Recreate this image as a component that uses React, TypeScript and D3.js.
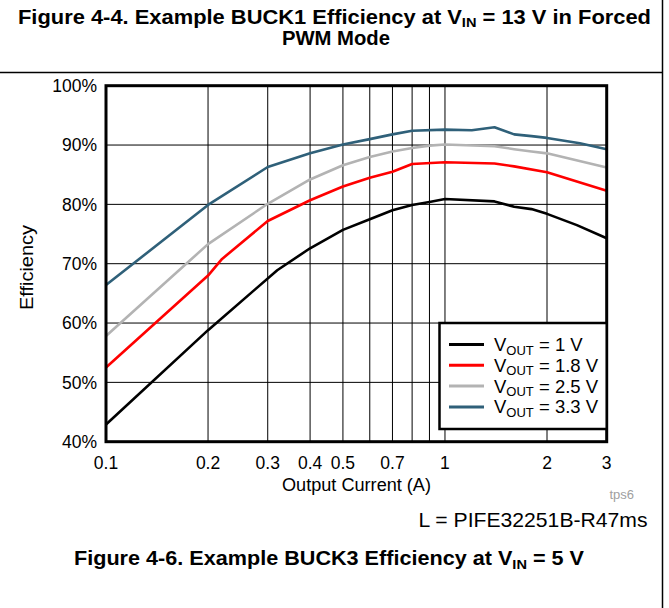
import React from 'react';
import * as d3 from 'd3';

// ---- data ----
const xTickValues = [0.1, 0.2, 0.3, 0.4, 0.5, 0.7, 1, 2, 3];
const xTickLabels = ['0.1', '0.2', '0.3', '0.4', '0.5', '0.7', '1', '2', '3'];
const xGridValues = [0.2, 0.3, 0.4, 0.5, 0.6, 0.7, 0.8, 0.9, 1, 2];
const yTickValues = [40, 50, 60, 70, 80, 90, 100];
const yTickLabels = ['40%', '50%', '60%', '70%', '80%', '90%', '100%'];

const seriesLabels = ['1 V', '1.8 V', '2.5 V', '3.3 V'];
const seriesColors = ['#000000', '#ff0000', '#b3b3b3', '#2f6079'];

const v1Current = [0.1, 0.2, 0.32, 0.4, 0.5, 0.6, 0.7, 0.8, 0.9, 1, 1.4, 1.6, 1.8, 2, 2.45, 3];
const v1Eff = [42.9, 58.8, 68.9, 72.6, 75.7, 77.5, 79.0, 79.9, 80.4, 80.9, 80.5, 79.6, 79.2, 78.4, 76.5, 74.3];

const v18Current = [0.1, 0.2, 0.22, 0.3, 0.4, 0.5, 0.6, 0.7, 0.8, 1, 1.4, 1.6, 2, 3];
const v18Eff = [52.5, 68.0, 70.8, 77.2, 80.7, 83.0, 84.5, 85.5, 86.8, 87.1, 86.9, 86.4, 85.4, 82.3];

const v25Current = [0.1, 0.2, 0.3, 0.4, 0.5, 0.6, 0.7, 0.8, 0.9, 1, 1.4, 1.6, 1.8, 2, 3];
const v25Eff = [57.8, 73.3, 80.1, 84.2, 86.6, 88.0, 88.9, 89.5, 89.9, 90.1, 89.8, 89.3, 88.9, 88.6, 86.2];

const v33Current = [0.1, 0.2, 0.3, 0.4, 0.5, 0.6, 0.7, 0.8, 1, 1.2, 1.4, 1.6, 1.8, 2, 2.5, 3];
const v33Eff = [66.4, 79.9, 86.3, 88.6, 90.1, 91.0, 91.8, 92.4, 92.6, 92.5, 93.0, 91.8, 91.5, 91.2, 90.3, 89.3];

const seriesCurrents = [v1Current, v18Current, v25Current, v33Current];
const seriesEffs = [v1Eff, v18Eff, v25Eff, v33Eff];

const FONT = '"Liberation Sans", Arial, Helvetica, sans-serif';

export default function App() {
  const W = 669;
  const H = 608;
  const left = 106, right = 606.7, top = 85.7, bottom = 441.7;

  const x = d3.scaleLog().domain([0.1, 3]).range([left, right]);
  const y = d3.scaleLinear().domain([40, 100]).range([bottom, top]);

  const line = d3
    .line<[number, number]>()
    .x((d) => x(d[0]))
    .y((d) => y(d[1]));

  const legX = 439.5, legY = 323, legW = right - 439.5, legH = 106;
  const rowY = [344.5, 365.3, 386.1, 406.9];

  return (
    <svg
      width={W}
      height={H}
      viewBox={`0 0 ${W} ${H}`}
      style={{ position: 'absolute', left: 0, top: 0, background: '#fff' }}
      fontFamily={FONT}
    >
      <rect x={0} y={0} width={W} height={H} fill="#fff" />

      {/* Top title (previous figure) */}
      <text
        x={334.5}
        y={24}
        textAnchor="middle"
        fontSize={19.5}
        fontWeight="bold"
        textLength={633}
        lengthAdjust="spacingAndGlyphs"
        fill="#000"
      >
        Figure 4-4. Example BUCK1 Efficiency at V
        <tspan fontSize={13} dy={3}>IN</tspan>
        <tspan dy={-3}> = 13 V in Forced</tspan>
      </text>
      <text
        x={336}
        y={44.5}
        textAnchor="middle"
        fontSize={19.5}
        fontWeight="bold"
        textLength={108}
        lengthAdjust="spacingAndGlyphs"
        fill="#000"
      >
        PWM Mode
      </text>

      {/* frame rules */}
      <line x1={0} x2={663} y1={72.5} y2={72.5} stroke="#000" strokeWidth={1.5} />
      <line x1={662.5} x2={662.5} y1={0} y2={H} stroke="#000" strokeWidth={1.5} />

      {/* grid */}
      {xGridValues.map((v) => (
        <line key={'gx' + v} x1={x(v)} x2={x(v)} y1={top} y2={bottom} stroke="#000" strokeWidth={1} />
      ))}
      {yTickValues.map((v) => (
        <line key={'gy' + v} x1={left} x2={right} y1={y(v)} y2={y(v)} stroke="#000" strokeWidth={1} />
      ))}

      {/* series */}
      {seriesCurrents.map((cs, i) => (
        <path
          key={'s' + i}
          d={line(cs.map((c, j) => [c, seriesEffs[i][j]] as [number, number])) || ''}
          fill="none"
          stroke={seriesColors[i]}
          strokeWidth={2.6}
          strokeLinejoin="round"
        />
      ))}

      {/* plot frame */}
      <rect x={left} y={top} width={right - left} height={bottom - top} fill="none" stroke="#000" strokeWidth={3} />

      {/* y tick labels */}
      {yTickValues.map((v, i) => (
        <text key={'yl' + v} x={97} y={y(v)} dy="0.36em" textAnchor="end" fontSize={17.5} fill="#000">
          {yTickLabels[i]}
        </text>
      ))}

      {/* x tick labels */}
      {xTickValues.map((v, i) => (
        <text key={'xl' + v} x={x(v)} y={468.5} textAnchor="middle" fontSize={17.5} fill="#000">
          {xTickLabels[i]}
        </text>
      ))}

      {/* axis titles */}
      <text
        x={356.5}
        y={491}
        textAnchor="middle"
        fontSize={17.5}
        textLength={149}
        lengthAdjust="spacingAndGlyphs"
        fill="#000"
      >
        Output Current (A)
      </text>
      <text
        transform="translate(32.5,267.5) rotate(-90)"
        textAnchor="middle"
        fontSize={17.5}
        textLength={85}
        lengthAdjust="spacingAndGlyphs"
        fill="#000"
      >
        Efficiency
      </text>

      {/* legend */}
      <rect x={legX} y={legY} width={legW} height={legH} fill="#fff" stroke="#000" strokeWidth={2.5} />
      {seriesLabels.map((lab, i) => (
        <g key={'lg' + i}>
          <line x1={449} x2={484} y1={rowY[i]} y2={rowY[i]} stroke={seriesColors[i]} strokeWidth={3} />
          <text x={494} y={rowY[i] + 6.5} fontSize={18.5} fill="#000">
            V
            <tspan fontSize={13} dy={3.5}>OUT</tspan>
            <tspan dy={-3.5}>{' = ' + lab}</tspan>
          </text>
        </g>
      ))}

      {/* notes */}
      <text x={634} y={499} textAnchor="end" fontSize={13} fill="#a0a0a0">
        tps6
      </text>
      <text
        x={647.5}
        y={527}
        textAnchor="end"
        fontSize={21}
        textLength={229}
        lengthAdjust="spacingAndGlyphs"
        fill="#000"
      >
        L = PIFE32251B-R47ms
      </text>

      {/* bottom caption */}
      <text
        x={329}
        y={565}
        textAnchor="middle"
        fontSize={20}
        fontWeight="bold"
        textLength={510}
        lengthAdjust="spacingAndGlyphs"
        fill="#000"
      >
        Figure 4-6. Example BUCK3 Efficiency at V
        <tspan fontSize={13.5} dy={3.5}>IN</tspan>
        <tspan dy={-3.5}> = 5 V</tspan>
      </text>
    </svg>
  );
}
